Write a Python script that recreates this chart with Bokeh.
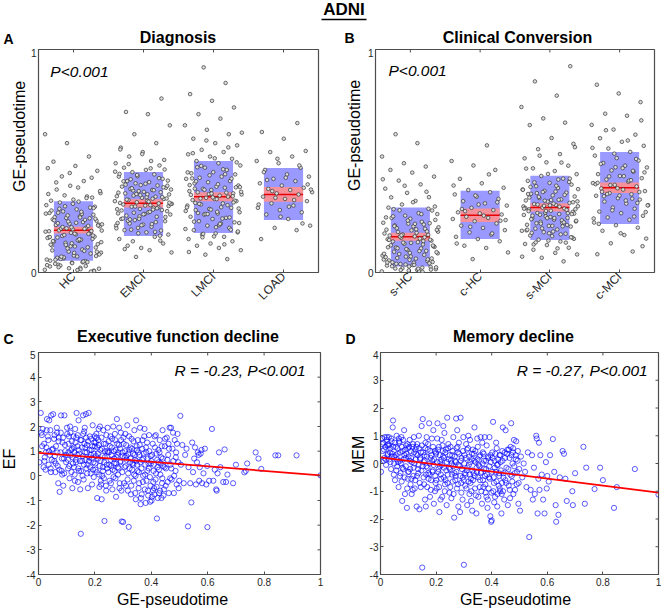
import math
from bokeh.plotting import figure
from bokeh.models import Label, Range1d, FixedTicker
from bokeh.core.properties import value
from bokeh.layouts import column, row
from bokeh.embed import file_html
from bokeh.resources import INLINE

FONT = "Liberation Sans"
AX = "#4d4d4d"
TXT = "#262626"
MID = 0.35   # distance from alphabetic baseline to the 'middle' anchor, in em

# ------------------------------------------------------------------ data
diag_labels = ["HC", "EMCI", "LMCI", "LOAD"]
diag_mean = [0.19, 0.31, 0.34, 0.35]
diag_box_lo = [0.053, 0.164, 0.177, 0.235]
diag_box_hi = [0.319, 0.451, 0.500, 0.469]
diag_sem = [0.015, 0.018, 0.020, 0.033]

hc_vals = [0.012, 0.021, 0.035, 0.008, 0.044, 0.027, 0.051, 0.063, 0.017, 0.072, 0.039, 0.085,
           0.094, 0.058, 0.103, 0.031, 0.112, 0.076, 0.121, 0.047, 0.133, 0.089, 0.142, 0.066,
           0.151, 0.118, 0.158, 0.097, 0.164, 0.127, 0.171, 0.139, 0.176, 0.108, 0.183, 0.147,
           0.189, 0.161, 0.194, 0.125, 0.201, 0.168, 0.207, 0.145, 0.213, 0.186, 0.219, 0.155,
           0.226, 0.197, 0.232, 0.174, 0.238, 0.209, 0.245, 0.188, 0.252, 0.221, 0.259, 0.203,
           0.267, 0.236, 0.274, 0.215, 0.283, 0.248, 0.291, 0.229, 0.302, 0.262, 0.314, 0.241,
           0.327, 0.278, 0.341, 0.297, 0.356, 0.318, 0.372, 0.336, 0.389, 0.352, 0.410, 0.431,
           0.456, 0.478, 0.497, 0.520, 0.580, 0.620, 0.015, 0.024, 0.006, 0.042, 0.053, 0.029,
           0.068, 0.081, 0.011, 0.057,
           0.004, 0.019, 0.033, 0.046, 0.061, 0.074, 0.088, 0.099, 0.113, 0.124, 0.136, 0.149,
           0.157, 0.166, 0.178, 0.185, 0.196, 0.204, 0.211, 0.223, 0.234, 0.243, 0.256, 0.264,
           0.272, 0.286, 0.295, 0.308, 0.322, 0.334, 0.346, 0.365, 0.381, 0.404, 0.425, 0.446,
           0.468, 0.049, 0.071, 0.093, 0.117, 0.141, 0.173, 0.198, 0.216, 0.247, 0.268, 0.289,
           0.131, 0.159]
emci_vals = [0.07, 0.09, 0.10, 0.12, 0.13, 0.11, 0.15, 0.16, 0.14, 0.17, 0.18, 0.19, 0.165, 0.20,
             0.21, 0.205, 0.22, 0.23, 0.215, 0.24, 0.25, 0.235, 0.26, 0.27, 0.255, 0.28, 0.285,
             0.265, 0.29, 0.295, 0.275, 0.30, 0.305, 0.31, 0.315, 0.32, 0.302, 0.325, 0.33, 0.335,
             0.312, 0.34, 0.345, 0.35, 0.322, 0.355, 0.36, 0.365, 0.342, 0.37, 0.375, 0.38, 0.362,
             0.385, 0.39, 0.40, 0.372, 0.405, 0.41, 0.42, 0.392, 0.43, 0.44, 0.45, 0.412, 0.46,
             0.47, 0.48, 0.432, 0.49, 0.50, 0.52, 0.462, 0.54, 0.56, 0.58, 0.62, 0.66, 0.71, 0.72,
             0.78, 0.252, 0.222, 0.282, 0.192, 0.332, 0.262, 0.242, 0.292, 0.352, 0.308, 0.272,
             0.232, 0.382, 0.212, 0.442, 0.182, 0.368, 0.298, 0.338,
             0.105, 0.143, 0.176, 0.198, 0.217, 0.238, 0.249, 0.261, 0.278, 0.288, 0.296, 0.307,
             0.318, 0.327, 0.338, 0.347, 0.358, 0.369, 0.378, 0.389, 0.398, 0.409, 0.423, 0.437,
             0.452, 0.467, 0.486, 0.505, 0.531, 0.552, 0.226, 0.268, 0.313, 0.351, 0.394, 0.188,
             0.241, 0.284, 0.331, 0.418]
lmci_vals = [0.06, 0.08, 0.10, 0.11, 0.12, 0.14, 0.13, 0.15, 0.16, 0.17, 0.18, 0.175, 0.19, 0.20,
             0.21, 0.195, 0.22, 0.23, 0.225, 0.24, 0.25, 0.245, 0.26, 0.27, 0.265, 0.28, 0.29,
             0.285, 0.30, 0.31, 0.305, 0.32, 0.33, 0.325, 0.34, 0.335, 0.35, 0.345, 0.36, 0.355,
             0.37, 0.365, 0.38, 0.375, 0.39, 0.385, 0.40, 0.41, 0.405, 0.42, 0.43, 0.425, 0.44,
             0.45, 0.445, 0.46, 0.47, 0.48, 0.49, 0.50, 0.51, 0.52, 0.53, 0.54, 0.55, 0.57, 0.58,
             0.60, 0.62, 0.64, 0.66, 0.69, 0.71, 0.74, 0.77, 0.80, 0.85, 0.92, 0.222, 0.272,
             0.312, 0.192, 0.352, 0.292, 0.242, 0.332, 0.382, 0.162, 0.422, 0.302, 0.262, 0.362,
             0.212, 0.472, 0.342, 0.282,
             0.092, 0.126, 0.158, 0.184, 0.203, 0.228, 0.247, 0.262, 0.276, 0.293, 0.308, 0.322,
             0.337, 0.348, 0.358, 0.371, 0.383, 0.396, 0.409, 0.421, 0.436, 0.449, 0.463, 0.478,
             0.494, 0.512, 0.535, 0.561, 0.592, 0.627, 0.218, 0.267, 0.314, 0.354, 0.392, 0.441,
             0.173, 0.287, 0.329, 0.376]
load_vals = [0.15, 0.19, 0.20, 0.21, 0.24, 0.26, 0.27, 0.28, 0.29, 0.30, 0.31, 0.32, 0.33, 0.34,
             0.35, 0.355, 0.36, 0.37, 0.375, 0.38, 0.39, 0.40, 0.41, 0.42, 0.43, 0.44, 0.46, 0.47,
             0.49, 0.50, 0.52, 0.54, 0.545, 0.60, 0.63, 0.67, 0.335, 0.372, 0.295, 0.415,
             0.22, 0.25, 0.305, 0.325, 0.365, 0.395, 0.425, 0.45, 0.48, 0.51]

conv_labels = ["s-HC", "c-HC", "s-MCI", "c-MCI"]
conv_mean = [0.16, 0.257, 0.292, 0.38]
conv_box_lo = [0.027, 0.150, 0.146, 0.217]
conv_box_hi = [0.292, 0.367, 0.434, 0.540]
conv_sem = [0.018, 0.030, 0.018, 0.024]

shc_vals = [0.005, 0.012, 0.018, 0.025, 0.009, 0.031, 0.022, 0.038, 0.015, 0.044, 0.028, 0.051,
            0.036, 0.058, 0.007, 0.065, 0.047, 0.072, 0.054, 0.079, 0.019, 0.086, 0.062, 0.093,
            0.041, 0.101, 0.069, 0.108, 0.083, 0.115, 0.033, 0.122, 0.097, 0.129, 0.076, 0.136,
            0.112, 0.143, 0.057, 0.149, 0.126, 0.156, 0.091, 0.162, 0.139, 0.169, 0.105, 0.175,
            0.152, 0.182, 0.118, 0.189, 0.166, 0.196, 0.134, 0.203, 0.178, 0.211, 0.147, 0.219,
            0.192, 0.227, 0.161, 0.236, 0.207, 0.245, 0.184, 0.255, 0.223, 0.266, 0.199, 0.278,
            0.241, 0.291, 0.215, 0.305, 0.262, 0.321, 0.284, 0.338, 0.357, 0.376, 0.395, 0.412,
            0.430, 0.448, 0.460, 0.475, 0.490, 0.520, 0.580, 0.620, 0.013, 0.027, 0.045,
            0.003, 0.011, 0.023, 0.034, 0.046, 0.059, 0.071, 0.084, 0.096, 0.109, 0.121, 0.133,
            0.146, 0.158, 0.171, 0.183, 0.194, 0.208, 0.221, 0.233, 0.247, 0.262, 0.279, 0.296,
            0.315, 0.337, 0.362, 0.389, 0.418, 0.017, 0.039, 0.063, 0.088, 0.113, 0.141, 0.167,
            0.191, 0.218, 0.252, 0.286]
chc_vals = [0.06, 0.09, 0.11, 0.12, 0.14, 0.15, 0.16, 0.17, 0.18, 0.19, 0.20, 0.21, 0.22, 0.23,
            0.24, 0.245, 0.25, 0.26, 0.265, 0.27, 0.28, 0.29, 0.30, 0.31, 0.32, 0.33, 0.34, 0.35,
            0.36, 0.37, 0.38, 0.40, 0.42, 0.46, 0.48, 0.50, 0.57, 0.275, 0.232, 0.305,
            0.13, 0.175, 0.205, 0.235, 0.255, 0.285, 0.315, 0.345, 0.39, 0.44]
smci_vals = [0.05, 0.066, 0.081, 0.088, 0.102, 0.111, 0.123, 0.128, 0.139, 0.147, 0.151, 0.163,
             0.166, 0.174, 0.181, 0.187, 0.193, 0.197, 0.206, 0.209, 0.214, 0.222, 0.227, 0.229,
             0.237, 0.243, 0.245, 0.252, 0.258, 0.262, 0.267, 0.272, 0.277, 0.283, 0.287, 0.291,
             0.297, 0.303, 0.307, 0.312, 0.318, 0.323, 0.328, 0.334, 0.341, 0.346, 0.353, 0.358,
             0.366, 0.372, 0.379, 0.387, 0.394, 0.402, 0.411, 0.421, 0.433, 0.441, 0.455, 0.467,
             0.479, 0.494, 0.512, 0.531, 0.553, 0.577, 0.603, 0.661, 0.672, 0.691, 0.742, 0.793,
             0.857, 0.925, 0.143, 0.189, 0.234, 0.259, 0.284, 0.309, 0.178, 0.213, 0.268, 0.296,
             0.326, 0.356, 0.157, 0.249, 0.275, 0.225, 0.198, 0.319, 0.363, 0.126, 0.406, 0.244,
             0.289, 0.171, 0.339, 0.264, 0.209, 0.384, 0.134, 0.299,
             0.071, 0.108, 0.135, 0.158, 0.176, 0.192, 0.207, 0.219, 0.232, 0.244, 0.255, 0.266,
             0.276, 0.286, 0.295, 0.305, 0.315, 0.325, 0.336, 0.348, 0.361, 0.374, 0.389, 0.404,
             0.421, 0.442, 0.466, 0.493, 0.524, 0.562, 0.184, 0.239, 0.281, 0.322, 0.371, 0.417,
             0.221, 0.262, 0.301, 0.352]
cmci_vals = [0.082, 0.094, 0.131, 0.152, 0.168, 0.187, 0.201, 0.212, 0.224, 0.236, 0.247, 0.254,
             0.266, 0.273, 0.286, 0.291, 0.302, 0.309, 0.318, 0.327, 0.333, 0.344, 0.351, 0.356,
             0.365, 0.372, 0.377, 0.386, 0.393, 0.401, 0.407, 0.417, 0.423, 0.433, 0.441, 0.452,
             0.458, 0.471, 0.479, 0.491, 0.502, 0.513, 0.524, 0.541, 0.556, 0.568, 0.586, 0.602,
             0.618, 0.641, 0.662, 0.703, 0.712, 0.764, 0.803, 0.842, 0.331, 0.392, 0.271, 0.432,
             0.362, 0.312, 0.472, 0.242, 0.412, 0.352,
             0.118, 0.176, 0.218, 0.251, 0.279, 0.301, 0.323, 0.342, 0.361, 0.378, 0.396, 0.414,
             0.431, 0.449, 0.468, 0.487, 0.509, 0.533, 0.559, 0.592, 0.638, 0.682, 0.345, 0.402,
             0.456]

pseudotime_ticks = [0, 0.2, 0.4, 0.6, 0.8, 1]
pseudotime_tick_labels = ["0", "0.2", "0.4", "0.6", "0.8", "1"]
ef_ticks = [-4, -3, -2, -1, 0, 1, 2, 3, 4, 5]
mem_ticks = [-4, -3, -2, -1, 0, 1, 2, 3, 4]
ef_fit = [0.93, -0.91]     # intercept, slope
mem_fit = [0.22, -1.27]

ef_points = [
    (0.003, 0.55), (0.008, 2.55), (0.012, 1.65), (0.015, 1.9), (0.02, 1.3), (0.022, 0.75),
    (0.025, 0.25), (0.028, 1.15), (0.03, 2.3), (0.033, 1.6), (0.036, 0.45), (0.038, 2.25),
    (0.04, 0.85), (0.042, 1.85), (0.045, 2.45), (0.047, 0.65), (0.048, 1.05), (0.01, 1.75),
    (0.018, 0.35), (0.035, 1.45), (0.044, 0.15), (0.026, 0.95),
    (0.052, 2.5), (0.055, 1.5), (0.058, 0.8), (0.06, 0.15), (0.062, 1.2), (0.065, 1.95),
    (0.068, 0.4), (0.07, -0.3), (0.072, 1.55), (0.075, -0.65), (0.078, 0.95), (0.08, 2.45),
    (0.082, 0.2), (0.085, 1.35), (0.088, -0.4), (0.09, 0.7), (0.092, 2.45), (0.095, 1.0),
    (0.098, 0.55), (0.066, 1.75), (0.084, 0.05), (0.056, 0.6),
    (0.102, 1.7), (0.105, 0.3), (0.108, 1.6), (0.11, -0.1), (0.112, 2.0), (0.115, 0.85),
    (0.118, 1.4), (0.12, -0.5), (0.122, 0.5), (0.125, 1.15), (0.128, 0.05), (0.13, 1.9),
    (0.132, 0.65), (0.135, 2.55), (0.138, 1.2), (0.14, -0.25), (0.142, 2.25), (0.145, 0.9),
    (0.148, -0.55), (0.116, 1.05), (0.126, 0.35), (0.134, 1.55), (0.144, 0.2), (0.106, 0.95),
    (0.152, 1.45), (0.155, 0.6), (0.158, 2.45), (0.16, -0.15), (0.162, 1.8), (0.165, 0.95),
    (0.168, 2.5), (0.17, 0.3), (0.172, 1.25), (0.175, -0.5), (0.178, 2.55), (0.18, 0.75),
    (0.182, 1.6), (0.185, 0.1), (0.188, 1.05), (0.19, -0.35), (0.192, 2.05), (0.195, 0.55),
    (0.198, 1.35), (0.156, 0.0), (0.166, 1.15), (0.174, 0.45), (0.186, 0.85), (0.196, -0.05),
    (0.164, 1.95), (0.15, -2.35),
    (0.2, 1.2), (0.202, 0.25), (0.205, 1.7), (0.208, -0.9), (0.21, 0.9), (0.212, 1.45),
    (0.215, 0.05), (0.218, 2.0), (0.22, 0.6), (0.222, -0.35), (0.225, 1.1), (0.228, 0.35),
    (0.23, 1.85), (0.232, -0.1), (0.235, 0.75), (0.238, 1.3), (0.24, -0.6), (0.242, 0.45),
    (0.245, 1.95), (0.248, 0.15), (0.204, 0.8), (0.214, 1.25), (0.224, -0.95), (0.234, -1.83),
    (0.244, 1.0), (0.226, 0.0), (0.216, -0.45), (0.206, 1.55),
    (0.25, 0.95), (0.252, -0.2), (0.255, 1.6), (0.258, 0.4), (0.26, 1.15), (0.262, -0.55),
    (0.265, 2.0), (0.268, 0.7), (0.27, 0.2), (0.272, 1.45), (0.275, -0.85), (0.278, 2.3),
    (0.28, 0.85), (0.282, 0.05), (0.285, 1.25), (0.288, -0.3), (0.29, 0.55), (0.292, 1.75),
    (0.295, -1.85), (0.298, 0.95), (0.256, 0.65), (0.266, -0.05), (0.274, 1.05), (0.284, 0.3),
    (0.294, -0.6), (0.286, 1.95), (0.276, 0.5),
    (0.3, -1.87), (0.302, 1.3), (0.305, 0.35), (0.308, 1.7), (0.31, -0.4), (0.312, 0.8),
    (0.315, 2.05), (0.318, 0.1), (0.32, -2.07), (0.322, 1.05), (0.325, 0.55), (0.328, -0.75),
    (0.33, 1.5), (0.332, 0.25), (0.335, 0.9), (0.338, -0.2), (0.34, 1.85), (0.342, 0.65),
    (0.345, -0.95), (0.348, 1.2), (0.306, 0.75), (0.316, -0.15), (0.326, 1.15), (0.336, 0.45),
    (0.346, 2.25), (0.344, 0.0),
    (0.35, 0.45), (0.352, 1.45), (0.355, -0.5), (0.358, 0.85), (0.36, 1.95), (0.362, -1.15),
    (0.365, 0.3), (0.368, 1.1), (0.37, -0.25), (0.372, 0.7), (0.375, 1.6), (0.378, 0.05),
    (0.38, -1.1), (0.382, 0.95), (0.385, 1.35), (0.388, -0.6), (0.39, 0.5), (0.392, 1.65),
    (0.395, -0.05), (0.398, 0.8), (0.356, 0.15), (0.366, -0.75), (0.376, 1.9), (0.386, 0.2),
    (0.396, -1.05),
    (0.4, 0.6), (0.402, -0.85), (0.405, 1.3), (0.408, 0.2), (0.41, -0.5), (0.412, 1.6),
    (0.415, -0.15), (0.418, 0.9), (0.42, -1.73), (0.422, 0.35), (0.425, 1.05), (0.428, -0.7),
    (0.43, 1.45), (0.432, 0.05), (0.435, 0.75), (0.438, -0.3), (0.44, 1.85), (0.442, 0.4),
    (0.445, -0.55), (0.448, 1.2), (0.406, -0.6), (0.416, 1.65), (0.426, 0.55), (0.436, -0.9),
    (0.452, 0.3), (0.455, 1.55), (0.458, -0.25), (0.46, 0.85), (0.462, -0.7), (0.465, 1.95),
    (0.468, 0.45), (0.47, 1.95), (0.472, -0.15), (0.475, 1.1), (0.478, 0.6), (0.48, -0.7),
    (0.483, 1.45), (0.486, 0.2), (0.49, -0.35), (0.493, 1.7), (0.496, 0.55), (0.499, -0.2),
    (0.461, 1.3), (0.488, 0.95),
    (0.503, 2.43), (0.505, 0.45), (0.51, 1.25), (0.515, -0.3), (0.52, 0.85), (0.525, 1.1),
    (0.53, -2.05), (0.532, 0.35), (0.538, -0.3), (0.542, -1.08), (0.545, 1.35), (0.548, 0.15),
    (0.552, 0.7), (0.555, 1.15), (0.558, -0.35), (0.562, 0.55), (0.565, 0.95), (0.568, 0.85),
    (0.57, -0.2), (0.572, 0.35), (0.575, 0.9), (0.578, 1.05), (0.58, -0.3), (0.585, 0.1),
    (0.59, 1.1), (0.595, -0.35), (0.598, 0.4), (0.599, -2.08),
    (0.605, -0.2), (0.615, 1.9), (0.62, -0.2), (0.625, 0.25), (0.63, -0.55), (0.632, -0.6),
    (0.635, 0.1), (0.64, 0.95), (0.645, 0.35), (0.655, -0.25), (0.66, 1.07), (0.665, -0.25),
    (0.67, 0.05), (0.69, -0.3), (0.7, 0.45), (0.73, 0.14), (0.735, 0.2), (0.74, 0.5),
    (0.77, 0.95), (0.78, 0.7), (0.79, 0.28), (0.84, 0.83), (0.85, 0.83), (0.915, 0.83),
    (1.0, 0.02),
    (0.013, 1.2), (0.021, 0.6), (0.029, 1.85), (0.037, 1.0), (0.043, 0.3), (0.051, 1.1),
    (0.057, 1.65), (0.061, 0.5), (0.067, 0.95), (0.071, 1.4), (0.074, 0.25), (0.079, 1.75),
    (0.083, 0.7), (0.087, 1.55), (0.091, 0.1), (0.094, 1.25), (0.097, 0.85), (0.101, 1.95),
    (0.104, 0.65), (0.107, 1.3), (0.109, 0.4), (0.113, 1.75), (0.117, 0.15), (0.119, 1.1),
    (0.121, 0.75), (0.124, 1.6), (0.127, 0.95), (0.129, -0.2), (0.131, 1.35), (0.133, 0.55),
    (0.137, 0.85), (0.139, 1.65), (0.141, 0.3), (0.143, 1.05), (0.147, 0.6), (0.149, 1.45),
    (0.151, 0.2), (0.154, 1.15), (0.157, 0.8), (0.159, 1.7), (0.161, 0.45), (0.163, 1.3),
    (0.167, 0.65), (0.169, 1.55), (0.171, 0.95), (0.173, 0.1), (0.176, 1.4), (0.179, 0.6),
    (0.181, 1.05), (0.183, 0.35), (0.187, 1.5), (0.189, 0.7), (0.191, 1.2), (0.193, 0.25),
    (0.197, 0.9), (0.199, 1.6), (0.201, 0.5), (0.203, 1.35), (0.207, 0.15), (0.209, 1.15),
    (0.211, 0.7), (0.213, 1.9), (0.217, 0.4), (0.219, 1.05), (0.221, -0.2), (0.223, 1.55),
    (0.227, 0.8), (0.229, 0.2), (0.231, 1.3), (0.233, 0.55), (0.236, 1.0), (0.239, -0.4),
    (0.241, 1.65), (0.243, 0.3), (0.246, 0.95), (0.249, 1.4), (0.251, 0.45), (0.253, 1.2),
    (0.257, -0.3), (0.259, 0.85), (0.261, 1.5), (0.263, 0.25), (0.267, 1.0), (0.269, 0.5),
    (0.271, 1.7), (0.273, -0.1), (0.277, 0.75), (0.279, 1.3), (0.281, 0.35), (0.283, 0.95),
    (0.287, -0.5), (0.289, 1.1), (0.291, 0.6), (0.293, 1.45), (0.297, 0.15), (0.299, 0.8),
    (0.301, 1.55), (0.303, -0.3), (0.307, 1.0), (0.309, 0.4), (0.311, 1.25), (0.313, 0.65),
    (0.317, -0.6), (0.319, 0.9), (0.321, 1.6), (0.323, 0.3), (0.327, 0.7), (0.329, -0.4),
    (0.331, 1.1), (0.333, 0.5), (0.337, 1.4), (0.339, 0.05), (0.341, 0.85), (0.343, -0.7),
    (0.347, 0.6), (0.349, 1.05), (0.351, 0.2), (0.353, 0.95), (0.357, -0.3), (0.359, 1.25),
    (0.361, 0.55), (0.363, -0.9), (0.367, 0.65), (0.369, 1.45), (0.371, 0.0), (0.373, 0.9),
    (0.377, -0.55), (0.379, 0.45), (0.381, 1.15), (0.383, -0.2), (0.387, 0.7), (0.389, -0.8),
    (0.391, 0.3), (0.393, 1.0), (0.397, -0.4), (0.399, 0.5), (0.401, -1.0), (0.403, 0.85),
    (0.407, -0.25), (0.409, 0.45), (0.411, -0.75), (0.413, 1.15), (0.417, 0.1), (0.419, -0.45),
    (0.421, 0.65), (0.423, -0.9), (0.427, 0.25), (0.429, 0.95), (0.431, -0.6), (0.433, 0.5),
    (0.437, 1.2), (0.439, -0.1), (0.441, 0.7), (0.443, -0.8), (0.447, 0.35), (0.449, 1.5),
    (0.451, -0.4), (0.457, 0.65), (0.463, 1.1), (0.467, -0.1), (0.471, 0.3), (0.477, 1.75),
    (0.481, 0.0), (0.487, 0.75), (0.491, 1.3), (0.497, -0.5),
]

mem_points = [
    (0.002, -0.3), (0.005, 0.9), (0.008, 0.45), (0.01, 0.75), (0.012, 0.1), (0.015, 0.95),
    (0.018, 0.6), (0.02, -0.05), (0.022, 0.85), (0.025, 0.3), (0.028, 0.7), (0.03, 0.95),
    (0.032, 0.15), (0.035, 0.55), (0.038, -0.2), (0.04, 0.8), (0.042, 0.35), (0.045, 1.55),
    (0.048, -0.4), (0.014, 0.2), (0.026, 0.65), (0.034, 0.4), (0.044, 1.3), (0.006, 0.7),
    (0.05, 0.25), (0.052, -0.6), (0.055, 0.6), (0.058, 1.0), (0.06, -0.1), (0.062, 0.35),
    (0.065, -0.85), (0.068, 0.75), (0.07, 0.1), (0.072, -0.35), (0.075, 0.95), (0.078, -1.35),
    (0.08, 0.45), (0.082, -0.2), (0.085, 1.2), (0.088, -1.1), (0.09, 0.2), (0.092, 0.65),
    (0.095, -1.6), (0.098, -0.55), (0.059, 0.15), (0.066, 0.9), (0.076, -0.65), (0.086, 0.3),
    (0.096, -0.9),
    (0.1, 0.55), (0.102, -0.3), (0.105, 0.85), (0.108, -0.75), (0.11, 0.2), (0.112, -1.1),
    (0.115, 0.6), (0.118, -0.45), (0.12, 0.95), (0.122, 0.0), (0.125, -0.6), (0.128, 0.35),
    (0.13, -1.55), (0.132, 0.7), (0.135, -0.2), (0.138, 1.0), (0.14, -1.65), (0.142, 0.15),
    (0.145, -0.85), (0.148, 1.35), (0.106, 0.1), (0.116, -0.95), (0.126, 0.5), (0.136, -0.35),
    (0.146, 0.4), (0.15, -3.75),
    (0.152, 1.6), (0.155, -0.5), (0.158, 0.3), (0.16, -1.3), (0.162, 0.75), (0.165, -0.1),
    (0.168, -0.85), (0.17, 0.5), (0.172, -0.35), (0.175, 1.45), (0.178, -1.2), (0.18, 0.2),
    (0.182, -0.6), (0.185, 0.9), (0.188, -0.25), (0.19, 1.2), (0.192, -1.45), (0.195, 0.45),
    (0.198, -0.7), (0.156, 0.05), (0.166, 0.95), (0.176, -0.4), (0.186, 0.1), (0.196, -1.0),
    (0.163, -1.55),
    (0.2, 0.35), (0.202, -0.9), (0.205, 1.45), (0.208, -0.3), (0.21, 0.6), (0.212, -1.75),
    (0.215, 0.05), (0.218, -0.55), (0.22, 0.85), (0.222, -1.2), (0.225, 0.25), (0.228, -0.15),
    (0.23, 1.1), (0.232, -0.75), (0.235, 0.5), (0.238, -1.5), (0.24, 1.65), (0.242, -0.4),
    (0.245, 0.15), (0.248, -1.05), (0.204, 0.9), (0.214, -0.1), (0.224, 0.45), (0.234, -0.6),
    (0.244, 0.7), (0.216, -1.3), (0.226, 1.35),
    (0.25, -0.2), (0.252, 0.6), (0.255, -1.25), (0.258, 0.3), (0.26, -0.65), (0.262, 0.95),
    (0.265, -1.95), (0.268, 0.1), (0.27, -0.45), (0.272, 1.62), (0.275, -0.9), (0.278, 0.4),
    (0.28, -1.55), (0.282, 0.75), (0.285, -0.1), (0.288, 1.65), (0.29, -0.7), (0.292, 0.2),
    (0.295, -1.3), (0.298, 0.95), (0.256, 0.0), (0.266, -0.35), (0.276, 1.2), (0.286, -1.75),
    (0.296, -0.5), (0.274, 0.55),
    (0.3, -3.65), (0.302, 0.3), (0.305, -0.8), (0.308, 0.7), (0.31, -0.25), (0.312, -1.5),
    (0.315, 0.55), (0.318, -0.05), (0.32, -1.1), (0.322, 0.85), (0.325, -0.55), (0.328, 0.15),
    (0.33, -1.7), (0.332, 0.5), (0.335, -0.35), (0.338, 1.3), (0.34, -0.9), (0.342, 0.05),
    (0.345, -1.8), (0.348, 0.9), (0.306, -0.4), (0.316, 1.0), (0.326, -1.35), (0.336, 0.35),
    (0.346, -0.15), (0.324, -0.7),
    (0.35, 0.6), (0.352, -1.2), (0.355, 0.25), (0.358, -0.6), (0.36, 0.95), (0.362, -0.3),
    (0.365, -1.45), (0.368, 0.4), (0.37, -0.85), (0.372, 0.1), (0.375, 0.95), (0.378, -1.05),
    (0.38, -0.2), (0.382, 0.65), (0.385, -1.6), (0.388, 0.2), (0.39, -0.5), (0.392, 0.95),
    (0.395, -1.9), (0.398, -2.1), (0.356, -0.1), (0.366, 0.75), (0.376, -0.45), (0.386, -1.3),
    (0.396, 0.3),
    (0.4, -2.05), (0.402, 0.4), (0.405, 1.5), (0.408, -0.7), (0.41, 0.1), (0.412, -1.2),
    (0.415, -0.3), (0.418, 0.55), (0.42, -1.55), (0.422, -0.05), (0.425, -0.8), (0.428, 0.3),
    (0.43, -1.0), (0.432, 0.05), (0.435, -1.8), (0.438, 0.45), (0.44, 1.3), (0.442, -0.5),
    (0.445, -1.3), (0.448, 0.2), (0.406, -1.0), (0.416, 0.75), (0.426, -0.35), (0.436, -1.1),
    (0.45, 1.2), (0.452, -0.7), (0.455, 0.35), (0.458, -1.5), (0.46, -0.2), (0.462, 0.5),
    (0.465, -0.95), (0.468, 0.6), (0.47, 1.45), (0.472, -0.45), (0.475, 0.0), (0.478, -1.1),
    (0.48, 0.85), (0.483, -0.35), (0.486, 0.3), (0.49, -0.75), (0.493, 0.1), (0.496, -1.45),
    (0.499, -0.2), (0.466, -1.25), (0.476, 0.4), (0.488, 0.8),
    (0.502, -1.7), (0.505, 0.25), (0.51, -0.5), (0.515, 0.0), (0.52, -0.3), (0.525, -0.85),
    (0.53, 0.4), (0.535, -2.65), (0.54, -0.95), (0.545, 0.3), (0.548, -1.3), (0.552, -0.15),
    (0.555, -1.1), (0.56, 1.0), (0.562, 0.9), (0.565, -1.8), (0.568, -0.55), (0.57, 0.75),
    (0.572, -0.95), (0.575, 0.3), (0.58, -0.4), (0.585, -1.3), (0.59, -1.8), (0.595, 0.05),
    (0.598, -0.9),
    (0.6, -0.45), (0.605, -0.65), (0.61, 0.3), (0.62, 0.88), (0.625, -0.3), (0.63, -1.5),
    (0.632, -2.1), (0.64, -1.85), (0.645, -0.5), (0.655, 0.45), (0.66, 0.35), (0.665, -0.55),
    (0.67, -1.35), (0.69, -1.0), (0.692, -1.5), (0.7, -0.35), (0.73, 0.6), (0.735, -1.45),
    (0.74, -0.15), (0.77, -0.92), (0.79, -0.15), (0.8, -0.6), (0.84, -1.6), (0.85, -0.85),
    (0.915, -0.2), (1.0, -1.12),
    (0.013, 0.5), (0.019, 0.15), (0.023, 0.95), (0.027, 0.35), (0.031, 0.65), (0.036, 0.05),
    (0.039, 0.9), (0.041, 0.25), (0.046, 0.6), (0.049, 0.0), (0.051, 0.75), (0.054, 0.3),
    (0.057, -0.25), (0.061, 0.55), (0.063, 0.05), (0.067, 0.8), (0.069, -0.45), (0.071, 0.4),
    (0.073, 0.0), (0.077, 0.6), (0.079, -0.15), (0.081, 0.85), (0.083, 0.15), (0.087, -0.5),
    (0.089, 0.5), (0.091, -0.1), (0.093, 0.35), (0.097, 0.7), (0.099, -0.3), (0.101, 0.25),
    (0.103, 0.6), (0.107, -0.2), (0.109, 0.45), (0.111, -0.55), (0.113, 0.05), (0.117, 0.7),
    (0.119, -0.15), (0.121, 0.4), (0.123, -0.9), (0.127, 0.15), (0.129, 0.6), (0.131, -0.45),
    (0.133, 0.3), (0.137, -0.05), (0.139, 0.55), (0.141, -0.7), (0.143, 0.2), (0.147, -0.25),
    (0.149, 0.65), (0.151, -0.1), (0.153, 0.4), (0.157, -0.75), (0.159, 0.1), (0.161, 0.55),
    (0.164, -0.4), (0.167, 0.25), (0.169, -0.15), (0.171, 0.7), (0.173, -0.55), (0.177, 0.0),
    (0.179, 0.45), (0.181, -0.95), (0.183, 0.3), (0.187, -0.3), (0.189, 0.6), (0.191, -0.05),
    (0.193, 0.15), (0.197, -0.45), (0.199, 0.4), (0.201, -0.6), (0.203, 0.05), (0.207, 0.5),
    (0.209, -0.2), (0.211, -0.85), (0.213, 0.3), (0.217, -0.4), (0.219, 0.15), (0.221, -0.05),
    (0.223, 0.65), (0.227, -0.5), (0.229, 0.2), (0.231, -1.0), (0.233, 0.4), (0.237, -0.25),
    (0.239, 0.05), (0.241, -0.7), (0.243, 0.55), (0.247, -0.15), (0.249, 0.3), (0.251, -0.85),
    (0.253, 0.1), (0.257, -0.4), (0.259, 0.45), (0.261, -0.1), (0.263, -1.1), (0.267, 0.25),
    (0.269, -0.6), (0.271, 0.05), (0.273, -0.3), (0.277, 0.6), (0.279, -0.75), (0.281, -0.05),
    (0.283, 0.35), (0.287, -0.45), (0.289, 0.1), (0.291, -1.05), (0.293, -0.2), (0.297, 0.45),
    (0.299, -0.6), (0.301, 0.0), (0.303, -0.35), (0.307, 0.2), (0.309, -0.9), (0.311, 0.5),
    (0.313, -0.15), (0.317, -0.65), (0.319, 0.25), (0.321, -0.4), (0.323, 0.05), (0.327, -1.0),
    (0.329, 0.35), (0.331, -0.25), (0.333, -0.6), (0.337, 0.1), (0.339, -0.45), (0.341, 0.45),
    (0.343, -1.15), (0.347, -0.3), (0.349, 0.15), (0.351, -0.5), (0.353, -0.05), (0.357, -0.85),
    (0.359, 0.3), (0.361, -0.35), (0.363, -1.0), (0.367, 0.0), (0.369, -0.6), (0.371, 0.35),
    (0.373, -0.2), (0.377, -0.75), (0.379, 0.1), (0.381, -1.2), (0.383, -0.4), (0.387, 0.25),
    (0.389, -0.9), (0.391, -0.1), (0.393, -0.55), (0.397, 0.05), (0.399, -1.05), (0.401, -0.3),
    (0.403, 0.2), (0.407, -0.5), (0.409, -1.4), (0.411, -0.15), (0.413, 0.35), (0.417, -0.65),
    (0.419, -0.05), (0.421, -1.1), (0.423, 0.15), (0.427, -0.45), (0.429, -0.9), (0.431, 0.3),
    (0.433, -0.25), (0.437, -0.7), (0.439, 0.1), (0.441, -1.0), (0.443, -0.35), (0.447, 0.4),
    (0.449, -0.6), (0.453, -0.15), (0.457, 0.5), (0.461, -0.8), (0.464, 0.2), (0.467, -0.4),
    (0.471, 0.3), (0.474, -0.65), (0.477, 0.55), (0.481, -0.1), (0.484, -0.95), (0.487, 0.15),
    (0.491, -0.3), (0.494, 0.45), (0.497, -0.7),
]

# ------------------------------------------------------------------ helpers
def make_fig(origin, size, frame, xr, yr):
    ox, oy = origin
    w, h = size
    L, T, R, B = frame
    p = figure(width=w, height=h, x_range=Range1d(*xr), y_range=Range1d(*yr),
               output_backend="svg", toolbar_location=None,
               min_border_left=L - ox, min_border_top=T - oy,
               min_border_right=(ox + w) - R, min_border_bottom=(oy + h) - B)
    p.grid.visible = False
    p.outline_line_color = AX
    p.outline_line_width = 1.2
    p.background_fill_color = "white"
    p.border_fill_color = "white"
    for ax in p.axis:
        ax.axis_line_color = None
        ax.major_tick_in = 3
        ax.major_tick_out = 0
        ax.minor_tick_line_color = None
        ax.major_tick_line_color = AX
        ax.major_label_text_font = FONT
        ax.major_label_text_color = TXT
        ax.major_label_text_font_size = "10px"
        ax.major_label_standoff = 3
    geom = (L, T, R, B, xr, yr)
    return p, geom


def mirror_ticks(p, geom, xticks, yticks):
    L, T, R, B, xr, yr = geom
    dy = 3.0 / (B - T) * (yr[1] - yr[0])
    dx = 3.0 / (R - L) * (xr[1] - xr[0])
    if xticks:
        p.segment(x0=xticks, x1=xticks, y0=[yr[1]] * len(xticks),
                  y1=[yr[1] - dy] * len(xticks), line_color=AX, line_width=1)
    if yticks:
        p.segment(x0=[xr[1]] * len(yticks), x1=[xr[1] - dx] * len(yticks),
                  y0=yticks, y1=yticks, line_color=AX, line_width=1)


def put_label(p, geom, px, py_base, text, size, style="normal", align="left"):
    # py_base: page y of the alphabetic baseline; drawn with a 'middle' anchor
    L, T, R, B, xr, yr = geom
    py = py_base - MID * size
    x = xr[0] + (px - L) / (R - L) * (xr[1] - xr[0])
    y = yr[0] + (B - py) / (B - T) * (yr[1] - yr[0])
    p.add_layout(Label(x=x, y=y, text=text, text_font=FONT, text_font_size=f"{size}px",
                       text_font_style=style, text_align=align, text_baseline="middle",
                       text_color="#000000"))


def strip(x0, y0, x1, y1):
    p = figure(width=x1 - x0, height=y1 - y0, x_range=Range1d(x0, x1),
               y_range=Range1d(-y1, -y0), output_backend="svg", toolbar_location=None,
               x_axis_location=None, y_axis_location=None, min_border=0,
               outline_line_color=None)
    p.grid.visible = False
    p.background_fill_color = "white"
    p.border_fill_color = "white"
    return p


def add_text(p, px, py_base, text, size, style="normal", align="left"):
    py = py_base - MID * size
    p.text(x=[px], y=[-py], text=[text], text_font=value(FONT), text_font_size=f"{size}px",
           text_font_style=style, text_align=align, text_baseline="middle",
           text_color="#000000")


def add_vtext(p, cx, cy, text, size):
    p.text(x=[cx], y=[-cy], text=[text], text_font=value(FONT), text_font_size=f"{size}px",
           text_align="center", text_baseline="middle", angle=math.pi / 2,
           text_color="#000000")


def group_panel(p, geom, labels, groups, mean, lo, hi, sem):
    n = len(labels)
    pos = list(range(1, n + 1))
    hw = 0.28
    p.xaxis.ticker = FixedTicker(ticks=pos)
    p.xaxis.major_label_overrides = {k: lab for k, lab in zip(pos, labels)}
    p.xaxis.major_label_orientation = math.pi / 4
    p.xaxis.major_label_text_font_size = "12px"
    p.xaxis.major_label_standoff = 2
    p.yaxis.ticker = FixedTicker(ticks=[0, 1])
    p.yaxis.major_label_standoff = 2
    p.quad(left=[c - hw for c in pos], right=[c + hw for c in pos], bottom=lo, top=hi,
           fill_color="#9999ff", line_color=None)
    p.quad(left=[c - hw for c in pos], right=[c + hw for c in pos],
           bottom=[m - s for m, s in zip(mean, sem)], top=[m + s for m, s in zip(mean, sem)],
           fill_color="#ff9090", fill_alpha=0.9, line_color=None)
    p.segment(x0=[c - hw for c in pos], x1=[c + hw for c in pos], y0=mean, y1=mean,
              line_color="#e60000", line_width=1.5)
    xs, ys = [], []
    for k, vals in enumerate(groups):
        for i, v in enumerate(vals):
            jit = ((i * 0.6180339887 + 0.37 * k) % 1.0 - 0.5) * 0.82
            xs.append(pos[k] + jit)
            ys.append(v)
    p.scatter(xs, ys, marker="circle", size=3.6, fill_color="#dddddd",
              line_color="#333333", line_width=0.7)
    mirror_ticks(p, geom, pos, None)


def scatter_panel(p, geom, pts, fit, yticks):
    p.xaxis.ticker = FixedTicker(ticks=pseudotime_ticks)
    p.xaxis.major_label_overrides = {t: s for t, s in zip(pseudotime_ticks, pseudotime_tick_labels)}
    p.yaxis.ticker = FixedTicker(ticks=yticks)
    p.yaxis.major_label_overrides = {t: str(t) for t in yticks}
    xs = [a for a, b in pts]
    ys = [b for a, b in pts]
    p.scatter(xs, ys, marker="circle", size=5.2, fill_color=None, line_color="#0000ff",
              line_width=0.8, line_alpha=0.8)
    lx = [pseudotime_ticks[0], pseudotime_ticks[-1]]
    p.line(lx, [fit[0] + fit[1] * x for x in lx], line_color="#ff0000", line_width=1.8)
    mirror_ticks(p, geom, pseudotime_ticks, yticks)


# ------------------------------------------------------------------ header 1
h1 = strip(0, 0, 664, 48)
title_cx, title_hw = 343.5, 22.5
add_text(h1, title_cx, 14.5, "ADNI", 17, "bold", align="center")
h1.line([title_cx - title_hw, title_cx + title_hw], [-19, -19], line_color="#000000", line_width=1.6)
add_text(h1, 3, 43, "A", 14, "bold")
add_text(h1, 177.5, 43, "Diagnosis", 16, "bold", align="center")
add_text(h1, 344, 42, "B", 14, "bold")
add_text(h1, 517, 43, "Clinical Conversion", 16, "bold", align="center")

# ------------------------------------------------------------------ row 1
sa = strip(0, 48, 27, 310)
add_vtext(sa, 19, 150, "GE-pseudotime", 16)
pa, ga = make_fig((27, 48), (311, 262), (35, 49, 318, 275), (0.5, 4.5), (0, 1))
group_panel(pa, ga, diag_labels, [hc_vals, emci_vals, lmci_vals, load_vals],
            diag_mean, diag_box_lo, diag_box_hi, diag_sem)
put_label(pa, ga, 47, 77, "P<0.001", 15.5, "italic")

sb = strip(338, 48, 364, 310)
add_vtext(sb, 354, 149, "GE-pseudotime", 16)
pb, gb = make_fig((364, 48), (300, 262), (375, 49, 654, 275), (0.5, 4.5), (0, 1))
group_panel(pb, gb, conv_labels, [shc_vals, chc_vals, smci_vals, cmci_vals],
            conv_mean, conv_box_lo, conv_box_hi, conv_sem)
put_label(pb, gb, 388, 76, "P<0.001", 15.5, "italic")

# ------------------------------------------------------------------ header 2
h2 = strip(0, 310, 664, 350)
add_text(h2, 3, 343, "C", 14, "bold")
add_text(h2, 177.5, 342, "Executive function decline", 16, "bold", align="center")
add_text(h2, 345, 343, "D", 14, "bold")
add_text(h2, 513, 342, "Memory decline", 16, "bold", align="center")

# ------------------------------------------------------------------ row 2
sc = strip(0, 350, 22, 592)
add_vtext(sc, 9, 466, "EF", 16)
pc, gc = make_fig((22, 350), (316, 242), (38, 352, 320, 574), (0, 1), (-4, 5))
scatter_panel(pc, gc, ef_points, ef_fit, ef_ticks)
put_label(pc, gc, 305, 375, "R = -0.23, P<0.001", 15.5, "italic", align="right")

sd = strip(338, 350, 366, 592)
add_vtext(sd, 358, 461, "MEM", 16)
pd_, gd = make_fig((366, 350), (298, 242), (377, 352, 658, 574), (0, 1), (-4, 4))
scatter_panel(pd_, gd, mem_points, mem_fit, mem_ticks)
pd_.yaxis.major_label_standoff = 2
put_label(pd_, gd, 647, 375, "R = -0.27, P<0.001", 15.5, "italic", align="right")

# ------------------------------------------------------------------ footer
ft = strip(0, 592, 664, 612)
add_text(ft, 172, 605, "GE-pseudotime", 16, align="center")
add_text(ft, 515, 605, "GE-pseudotime", 16, align="center")

layout = column(h1, row(sa, pa, sb, pb), h2, row(sc, pc, sd, pd_), ft)
open("out.html", "w").write(file_html(layout, INLINE))
